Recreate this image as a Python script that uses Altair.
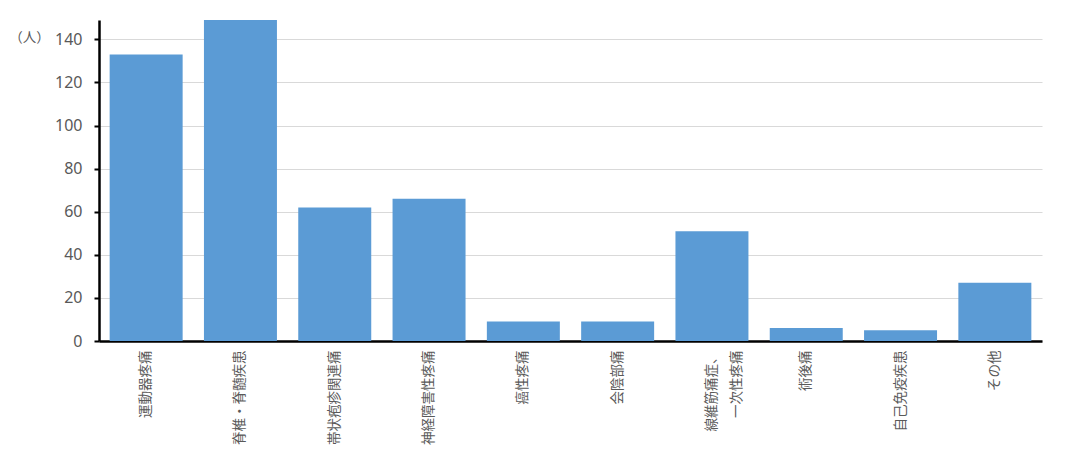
import altair as alt
import pandas as pd

categories = ["運動器疼痛", "脊椎・脊髄疾患", "帯状疱疹関連痛", "神経障害性疼痛", "癌性疼痛",
              "会陰部痛", "線維筋痛症、\n一次性疼痛\u2002", "術後痛", "自己免疫疾患", "その他"]
values = [133, 149, 62, 66, 9, 9, 51, 6, 5, 27]
y_ticks = [0, 20, 40, 60, 80, 100, 120, 140]

df = pd.DataFrame({"cat": categories, "val": values})

chart = alt.Chart(df).mark_bar(color="#5B9BD5").encode(
    x=alt.X("cat:N", sort=categories, title=None,
            scale=alt.Scale(paddingInner=0.226, paddingOuter=0.113),
            axis=alt.Axis(labelAngle=270, labelAlign="right", labelBaseline="middle",
                          labelExpr="split(datum.label, '\\n')",
                          labelFont="Noto Sans CJK JP", labelFontSize=13.5,
                          labelColor="#595959", labelLineHeight=25,
                          labelPadding=9, ticks=False,
                          domainColor="#000000", domainWidth=2.5)),
    y=alt.Y("val:Q", title="（人）",
            scale=alt.Scale(domain=[0, 149], nice=False, zero=True),
            axis=alt.Axis(values=y_ticks, grid=True, gridColor="#d9d9d9", gridWidth=1,
                          domainColor="#000000", domainWidth=2.5,
                          tickColor="#000000", tickWidth=2, tickSize=5,
                          labelFont="Noto Sans", labelFontSize=16, labelColor="#595959",
                          labelPadding=12,
                          titleAngle=0, titleX=-70, titleY=17, titleAlign="center",
                          titleBaseline="middle", titleFont="Noto Sans CJK JP",
                          titleFontSize=13.5, titleFontWeight="normal", titleColor="#595959")),
).properties(
    width=943, height=321,
    autosize=alt.AutoSizeParams(type="none"),
    padding={"left": 91, "top": 12, "right": 33, "bottom": 122},
    background="#ffffff",
).configure_view(stroke=None)

chart.save("out.html", embed_options={"renderer": "svg", "actions": False})
